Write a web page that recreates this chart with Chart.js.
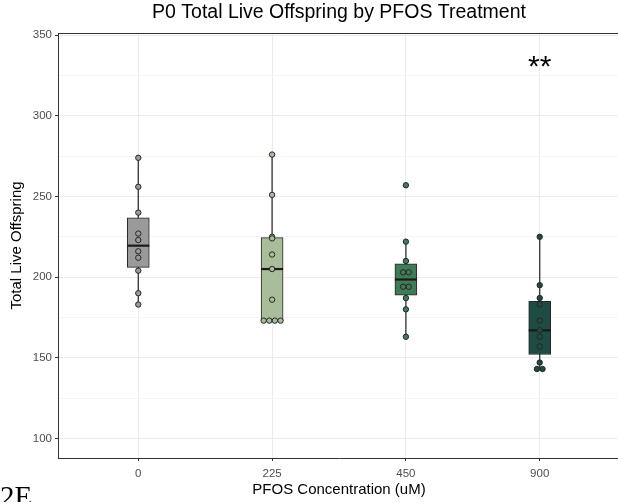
<!DOCTYPE html>
<html lang="en">
<head>
<meta charset="UTF-8">
<title>P0 Total Live Offspring by PFOS Treatment</title>
<script src="https://cdn.jsdelivr.net/npm/chart.js@4"></script>
<style>
    body {
        margin: 0;
        background: #fff;
        width: 618px;
        height: 502px;
        overflow: hidden;
    }
    #wrap {
        position: relative;
        width: 640px;
        height: 502px;
    }
</style>
</head>
<body>
<div id="wrap"><canvas id="offspringChart" width="640" height="502"></canvas></div>
<script>
// PFOS concentration groups (uM)
const categories = ['0', '225', '450', '900'];

// total live offspring per P0 animal
const offspring0 = [274, 256, 240, 227, 223, 216, 212, 204, 190, 183];
const offspring225 = [276, 251, 225, 224, 214, 205, 186, 173, 173, 173, 173];
const offspring450 = [257, 222, 210, 203, 203, 194, 194, 187, 180, 163];
const offspring900 = [225, 195, 187, 183, 173, 167, 163, 157, 147, 143, 143];

const yTickLabels = [100, 150, 200, 250, 300, 350];
const yMinorTicks = [125, 175, 225, 275, 325];

// significance mark over the 900 uM group
const signifLabel = '**';
const signifGroup = 3;
const signifValue = 333;

const groups = [offspring0, offspring225, offspring450, offspring900];
const boxFill = ['#9a9a9a', '#a9bd9b', '#3f7b59', '#1e4b44'];
const dotStep = 0.042;   // side-by-side spacing of tied dots, in category units

function quantile(sorted, p) {
    const pos = (sorted.length - 1) * p;
    const lo = Math.floor(pos), hi = Math.ceil(pos);
    return sorted[lo] + (sorted[hi] - sorted[lo]) * (pos - lo);
}

function boxStats(values) {
    const s = [...values].sort((a, b) => a - b);
    const q1 = quantile(s, 0.25), med = quantile(s, 0.5), q3 = quantile(s, 0.75);
    const iqr = q3 - q1;
    const inside = s.filter(v => v >= q1 - 1.5 * iqr && v <= q3 + 1.5 * iqr);
    return { q1, med, q3, lo: inside[0], hi: inside[inside.length - 1] };
}

const stats = groups.map(boxStats);

// whiskers: one vertical segment per group, broken by a null point
const whiskerData = [];
stats.forEach((s, i) => {
    whiskerData.push({ x: i, y: s.lo }, { x: i, y: s.hi }, { x: i, y: null });
});

// dots, ties spread sideways like a centred dotplot
const dotData = [];
const dotColors = [];
groups.forEach((vals, i) => {
    const counts = {};
    vals.forEach(v => counts[v] = (counts[v] || 0) + 1);
    const seen = {};
    vals.forEach(v => {
        const k = seen[v] || 0;
        seen[v] = k + 1;
        dotData.push({ x: i + (k - (counts[v] - 1) / 2) * dotStep, y: v });
        dotColors.push(boxFill[i]);
    });
});

const FONT = '"Liberation Sans", Arial, Helvetica, sans-serif';

const decorations = {
    id: 'decorations',
    afterDraw(chart) {
        const { ctx, chartArea, scales } = chart;
        ctx.save();
        // top border of the panel
        ctx.strokeStyle = '#333';
        ctx.lineWidth = 1;
        ctx.beginPath();
        ctx.moveTo(chartArea.left, chartArea.top + 0.5);
        ctx.lineTo(chartArea.right, chartArea.top + 0.5);
        ctx.stroke();

        // title
        ctx.fillStyle = '#000';
        ctx.font = '19.5px ' + FONT;
        ctx.textAlign = 'center';
        ctx.textBaseline = 'middle';
        ctx.fillText('P0 Total Live Offspring by PFOS Treatment', (chartArea.left + chartArea.right) / 2, 13);

        // significance stars
        ctx.font = '30px ' + FONT;
        ctx.fillText(signifLabel, scales.x.getPixelForValue(signifGroup), scales.y.getPixelForValue(signifValue) + 5);

        // panel letter
        ctx.font = '29px "Liberation Serif", "Times New Roman", serif';
        ctx.textAlign = 'left';
        ctx.textBaseline = 'alphabetic';
        ctx.fillText('2E', 0, 506);
        ctx.restore();
    }
};

new Chart(document.getElementById('offspringChart'), {
    data: {
        datasets: [
            {
                type: 'scatter',
                data: dotData,
                pointRadius: 2.7,
                pointBackgroundColor: dotColors,
                pointBorderColor: '#262626',
                pointBorderWidth: 1,
                order: 1
            },
            {
                type: 'scatter',
                data: stats.map((s, i) => ({ x: i, y: s.med })),
                pointStyle: 'line',
                pointRadius: 11,
                pointBorderColor: '#1a1a1a',
                pointBorderWidth: 2.2,
                order: 2
            },
            {
                type: 'bar',
                data: stats.map((s, i) => ({ x: i, y: [s.q1, s.q3] })),
                backgroundColor: boxFill,
                borderColor: '#262626',
                borderWidth: 1,
                borderSkipped: false,
                barThickness: 22,
                grouped: false,
                order: 3
            },
            {
                type: 'line',
                data: whiskerData,
                borderColor: '#333',
                borderWidth: 1.3,
                pointRadius: 0,
                spanGaps: false,
                order: 4
            }
        ]
    },
    options: {
        responsive: false,
        animation: false,
        events: [],
        layout: { padding: { top: 33, right: 20, left: 0, bottom: 0 } },
        plugins: {
            legend: { display: false },
            tooltip: { enabled: false }
        },
        scales: {
            x: {
                type: 'linear',
                offset: false,
                min: -0.6,
                max: 3.6,
                afterBuildTicks: scale => {
                    scale.ticks = categories.map((c, i) => ({ value: i }));
                },
                afterFit: scale => { scale.height = 44; },
                ticks: {
                    callback: v => categories[v],
                    color: '#4d4d4d',
                    font: { family: FONT, size: 11.5 },
                    padding: 6,
                    maxRotation: 0
                },
                grid: { offset: false, color: '#ebebeb', tickColor: '#333', tickLength: 3 },
                border: { color: '#333', width: 1 },
                title: {
                    display: true,
                    text: 'PFOS Concentration (uM)',
                    color: '#000',
                    font: { family: FONT, size: 15 },
                    padding: { top: 0, bottom: 3 }
                }
            },
            y: {
                type: 'linear',
                min: 87.8,
                max: 351.4,
                afterBuildTicks: scale => {
                    scale.ticks = [...yTickLabels, ...yMinorTicks].sort((a, b) => a - b).map(v => ({ value: v }));
                },
                afterFit: scale => { scale.width = 58; },
                ticks: {
                    callback: v => yTickLabels.includes(v) ? String(v) : '',
                    color: '#4d4d4d',
                    font: { family: FONT, size: 11.5 },
                    padding: 3
                },
                grid: {
                    color: c => yTickLabels.includes(c.tick.value) ? '#ebebeb' : '#f5f5f5',
                    tickColor: c => yTickLabels.includes(c.tick.value) ? '#333' : 'rgba(0,0,0,0)',
                    tickLength: 3
                },
                border: { color: '#333', width: 1 },
                title: {
                    display: true,
                    text: 'Total Live Offspring',
                    color: '#000',
                    font: { family: FONT, size: 15 },
                    padding: { top: 8, bottom: 2 }
                }
            }
        }
    },
    plugins: [decorations]
});
</script>
</body>
</html>
